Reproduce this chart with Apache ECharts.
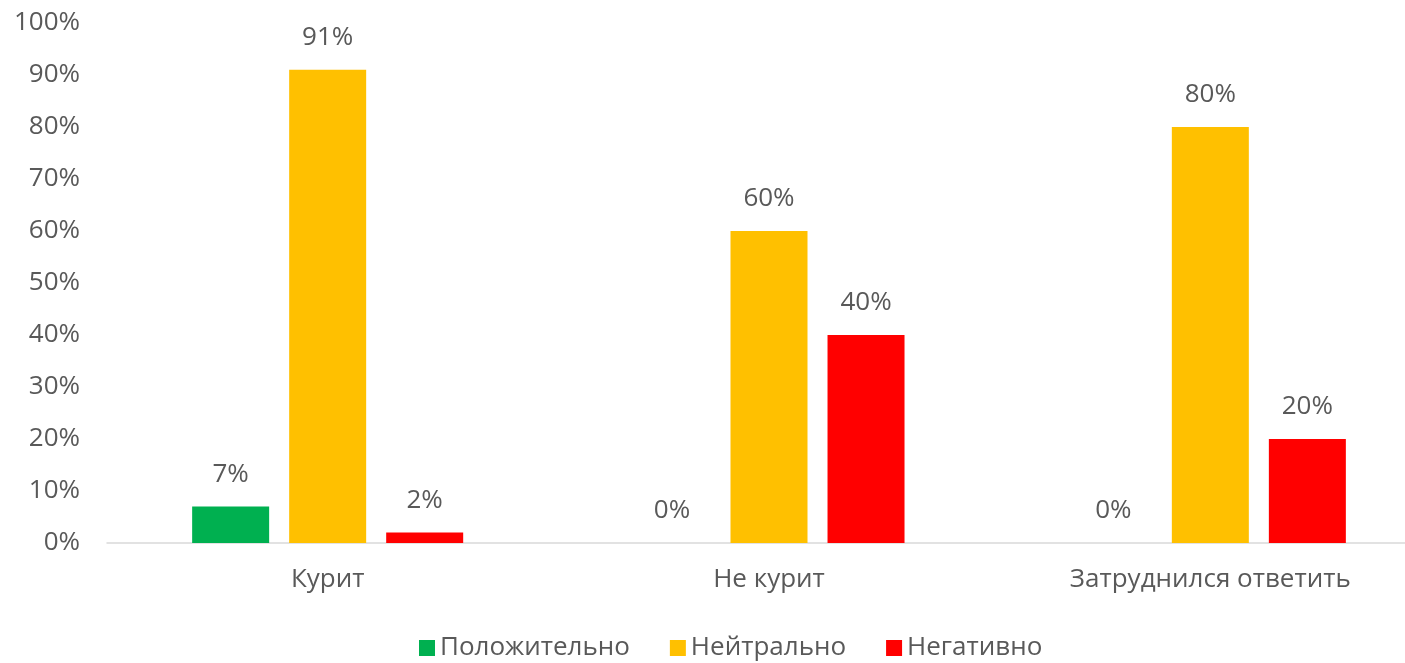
<!DOCTYPE html>
<html>
<head>
<meta charset="utf-8">
<script src="https://cdn.jsdelivr.net/npm/echarts@6/dist/echarts.min.js"></script>
<style>
  html, body { margin: 0; padding: 0; background: #fff; overflow: hidden; }
  /* график шире окна: правый край обрезан, как в оригинале */
  #main { width: 1431px; height: 663px; }
</style>
</head>
<body>
<div id="main"></div>
<script>
// данные
const categories = ['Курит', 'Не курит', 'Затруднился ответить']
const positive = [7, 0, 0]
const neutral = [91, 60, 80]
const negative = [2, 40, 20]
const yTicks = [0, 10, 20, 30, 40, 50, 60, 70, 80, 90, 100]

const dom = document.getElementById('main')
const myChart = echarts.init(dom)

const font = '"Open Sans", "Noto Sans", sans-serif'
const textColor = '#595959'
const fontSize = 26

const label = {
  show: true,
  position: 'top',
  distance: 19,
  formatter: '{c}%',
  color: textColor,
  fontSize: fontSize,
  fontFamily: font
}

function makeSeries (name, data, color) {
  return {
    name: name,
    type: 'bar',
    data: data,
    barWidth: 77,
    barGap: '26%',
    itemStyle: { color: color },
    label: label
  }
}

const option = {
  animation: false,
  grid: { left: 107, top: 23, right: 0, bottom: 120 },
  legend: {
    top: 630,
    left: 414,
    icon: 'rect',
    itemWidth: 16,
    itemHeight: 16,
    itemGap: 40,
    textStyle: { color: textColor, fontSize: 26, fontFamily: font }
  },
  xAxis: {
    type: 'category',
    data: categories,
    axisLine: { lineStyle: { color: '#d9d9d9', width: 1.5 } },
    axisTick: { show: false },
    axisLabel: { color: textColor, fontSize: fontSize, fontFamily: font, margin: 24 }
  },
  yAxis: {
    type: 'value',
    min: yTicks[0],
    max: yTicks[yTicks.length - 1],
    interval: 10,
    splitLine: { show: false },
    axisLine: { show: false },
    axisTick: { show: false },
    axisLabel: { color: textColor, fontSize: fontSize, fontFamily: font, margin: 27, formatter: '{value}%' }
  },
  series: [
    makeSeries('Положительно', positive, '#00b050'),
    makeSeries('Нейтрально', neutral, '#ffc000'),
    makeSeries('Негативно', negative, '#ff0000')
  ]
}

myChart.setOption(option)
</script>
</body>
</html>
